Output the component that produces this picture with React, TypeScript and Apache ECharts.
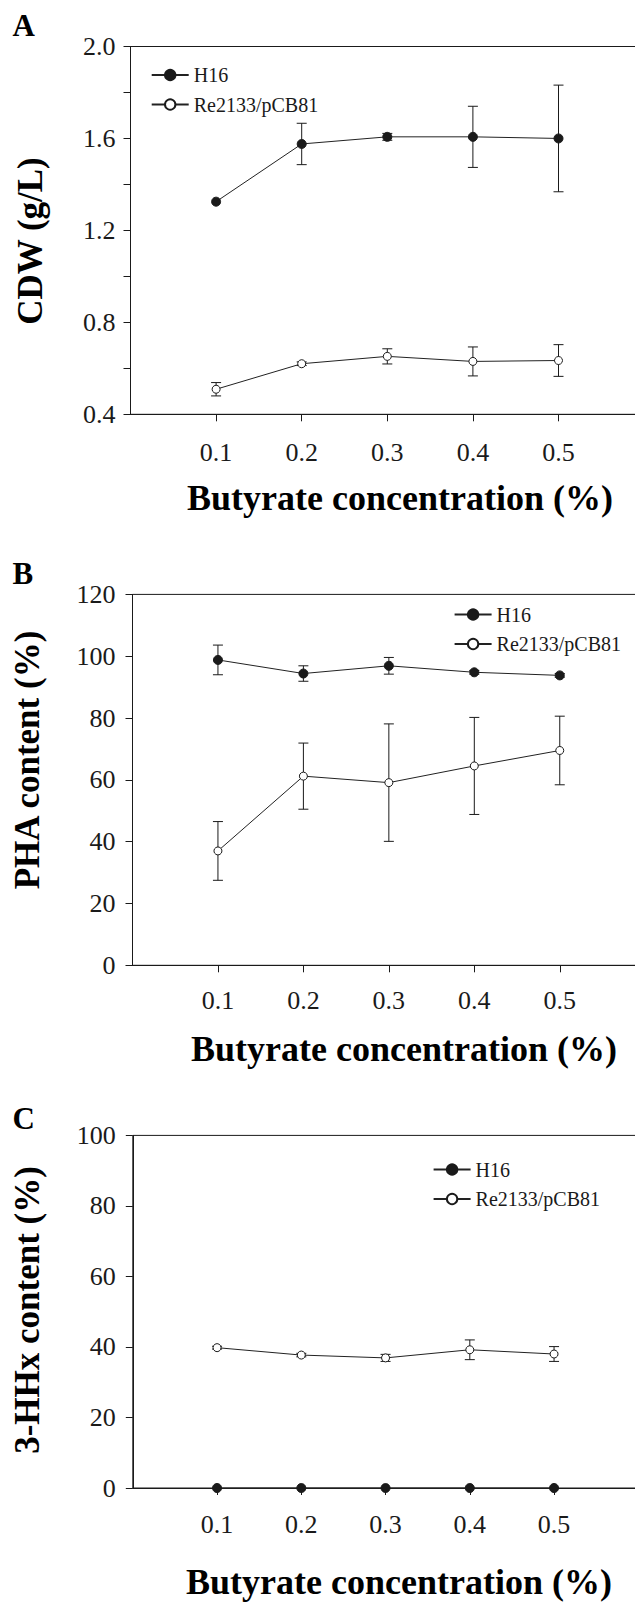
import React, { useEffect, useRef } from "react";
import * as echarts from "echarts";

const xVals = [0.1, 0.2, 0.3, 0.4, 0.5];
const xTickLabels = ["0.1", "0.2", "0.3", "0.4", "0.5"];

// Panel A: CDW (g/L)
const aH16 = [1.325, 1.576, 1.607, 1.607, 1.6];
const aH16Err = [0, 0.09, 0.015, 0.133, 0.232];
const aRe = [0.509, 0.62, 0.652, 0.63, 0.634];
const aReErr = [0.029, 0.008, 0.033, 0.063, 0.069];

// Panel B: PHA content (%)
const bH16 = [98.8, 94.4, 96.9, 94.8, 93.8];
const bH16Err = [4.8, 2.5, 2.7, 0.6, 0.6];
const bRe = [37.0, 61.2, 59.1, 64.5, 69.5];
const bReErr = [9.5, 10.7, 19.0, 15.7, 11.1];

// Panel C: 3-HHx content (%)
const cH16 = [0, 0, 0, 0, 0];
const cH16Err = [0, 0, 0, 0, 0];
const cRe = [39.8, 37.7, 36.9, 39.2, 38.0];
const cReErr = [0.4, 0.5, 1.0, 2.8, 2.1];

const seriesNames = ["H16", "Re2133/pCB81"];
const panelLetters = ["A", "B", "C"];
const yTitles = ["CDW (g/L)", "PHA content (%)", "3-HHx content (%)"];
const xTitle = "Butyrate concentration (%)";

const FONT = "Liberation Serif";
const INK = "#1a1a1a";

export default function App() {
  const ref = useRef<HTMLDivElement>(null);

  useEffect(() => {
    if (!ref.current) return;
    const chart = echarts.init(ref.current, undefined, { renderer: "svg" });

    const grids = [
      { left: 130.5, top: 46.5, width: 513.6, height: 367.8 },
      { left: 132.5, top: 594.4, width: 512.7, height: 370.9 },
      { left: 132.8, top: 1135.4, width: 505.5, height: 352.6 },
    ];
    const yRanges = [
      { min: 0.4, max: 2.0, interval: 0.2 },
      { min: 0, max: 120, interval: 20 },
      { min: 0, max: 100, interval: 20 },
    ];
    const xLabelMargins = [25, 22, 23];
    const yLabelMargins = [15, 17, 17];

    const panels = [
      { h: aH16, he: aH16Err, r: aRe, re: aReErr },
      { h: bH16, he: bH16Err, r: bRe, re: bReErr },
      { h: cH16, he: cH16Err, r: cRe, re: cReErr },
    ];

    const errRender = (params: any, api: any) => {
      const x = api.value(0);
      const lo = api.value(1);
      const hi = api.value(2);
      const pLo = api.coord([x, lo]);
      const pHi = api.coord([x, hi]);
      const w = 5;
      const style = { stroke: INK, lineWidth: 1 };
      return {
        type: "group",
        children: [
          { type: "line", shape: { x1: pLo[0], y1: pLo[1], x2: pHi[0], y2: pHi[1] }, style },
          { type: "line", shape: { x1: pLo[0] - w, y1: pLo[1], x2: pLo[0] + w, y2: pLo[1] }, style },
          { type: "line", shape: { x1: pHi[0] - w, y1: pHi[1], x2: pHi[0] + w, y2: pHi[1] }, style },
        ],
      };
    };

    const series: any[] = [];
    panels.forEach((p, gi) => {
      const errData = (vals: number[], errs: number[]) =>
        xVals
          .map((x, i) => [x, vals[i] - errs[i], vals[i] + errs[i]])
          .filter((_, i) => errs[i] > 0);
      series.push({
        type: "custom",
        xAxisIndex: gi,
        yAxisIndex: gi,
        renderItem: errRender,
        encode: { x: 0, y: [1, 2] },
        data: errData(p.h, p.he),
        z: 2,
        silent: true,
      });
      series.push({
        type: "custom",
        xAxisIndex: gi,
        yAxisIndex: gi,
        renderItem: errRender,
        encode: { x: 0, y: [1, 2] },
        data: errData(p.r, p.re),
        z: 2,
        silent: true,
      });
      series.push({
        name: seriesNames[0],
        type: "line",
        xAxisIndex: gi,
        yAxisIndex: gi,
        data: xVals.map((x, i) => [x, p.h[i]]),
        symbol: "circle",
        symbolSize: 9,
        clip: false,
        lineStyle: { color: "#222", width: 1 },
        itemStyle: { color: INK, borderColor: INK, borderWidth: 1 },
        z: 3,
      });
      series.push({
        name: seriesNames[1],
        type: "line",
        xAxisIndex: gi,
        yAxisIndex: gi,
        data: xVals.map((x, i) => [x, p.r[i]]),
        symbol: "circle",
        symbolSize: 8,
        clip: false,
        lineStyle: { color: "#222", width: 1 },
        itemStyle: { color: "#fff", borderColor: INK, borderWidth: 1 },
        z: 3,
      });
    });

    const xAxes = grids.map((_, gi) => ({
      type: "value",
      gridIndex: gi,
      min: 0,
      max: 0.6,
      interval: 0.1,
      axisLine: { lineStyle: { color: INK, width: 1 } },
      axisTick: { length: 7, lineStyle: { color: INK }, customValues: xVals },
      axisLabel: {
        fontSize: 26,
        fontFamily: FONT,
        color: INK,
        margin: xLabelMargins[gi],
        customValues: xVals,
        formatter: (v: number) => {
          const idx = xVals.findIndex((x) => Math.abs(x - v) < 1e-6);
          return idx >= 0 ? xTickLabels[idx] : "";
        },
      },
      splitLine: { show: false },
    }));

    const yAxes = grids.map((_, gi) => ({
      type: "value",
      gridIndex: gi,
      min: yRanges[gi].min,
      max: yRanges[gi].max,
      interval: yRanges[gi].interval,
      axisLine: { show: true, lineStyle: { color: INK, width: 1 } },
      axisTick: { show: true, length: 7, lineStyle: { color: INK } },
      axisLabel: {
        fontSize: 26,
        fontFamily: FONT,
        color: INK,
        margin: yLabelMargins[gi],
        formatter: (v: number) => {
          if (gi === 0) {
            const q = v / 0.4;
            return Math.abs(q - Math.round(q)) < 1e-6 ? v.toFixed(1) : "";
          }
          return String(Math.round(v));
        },
      },
      splitLine: { show: false },
    }));

    const legendPos = [
      { left: 150.7, top: 65 },
      { left: 453.6, top: 604.5 },
      { left: 432.6, top: 1159.5 },
    ];
    const legends = legendPos.map((lp) => ({
      orient: "vertical",
      left: lp.left,
      top: lp.top,
      itemWidth: 37,
      itemHeight: 13,
      itemGap: 9.5,
      padding: 0,
      selectedMode: false,
      data: seriesNames,
      textStyle: { fontSize: 20, fontFamily: FONT, color: INK },
    }));

    const xTitleY = [498, 1049, 1582];
    const xTitleX = [400, 404, 399];
    const yTitleX = [30, 27, 27];
    const yTitleY = [241, 760, 1310];
    const letterY = [25.5, 573, 1118];

    const graphic: any[] = [];
    for (let i = 0; i < 3; i++) {
      graphic.push({
        type: "text",
        x: 12.5,
        y: letterY[i],
        style: {
          text: panelLetters[i],
          font: `bold 31px ${FONT}`,
          fill: "#000",
          align: "left",
          verticalAlign: "middle",
        },
      });
      graphic.push({
        type: "text",
        x: xTitleX[i],
        y: xTitleY[i],
        style: {
          text: xTitle,
          font: `bold 36px ${FONT}`,
          fill: "#000",
          align: "center",
          verticalAlign: "middle",
        },
      });
      graphic.push({
        type: "text",
        x: yTitleX[i],
        y: yTitleY[i],
        rotation: Math.PI / 2,
        style: {
          text: yTitles[i],
          font: `bold 35px ${FONT}`,
          fill: "#000",
          align: "center",
          verticalAlign: "middle",
        },
      });
    }

    chart.setOption({
      animation: false,
      grid: grids.map((g) => ({ ...g, show: true, borderColor: INK, borderWidth: 1 })),
      xAxis: xAxes,
      yAxis: yAxes,
      legend: legends,
      series,
      graphic,
    });

    return () => chart.dispose();
  }, []);

  return (
    <div
      style={{
        position: "absolute",
        left: 0,
        top: 0,
        width: 635,
        height: 1604,
        overflow: "hidden",
        background: "#fff",
      }}
    >
      <div ref={ref} style={{ width: 660, height: 1604 }} />
    </div>
  );
}
